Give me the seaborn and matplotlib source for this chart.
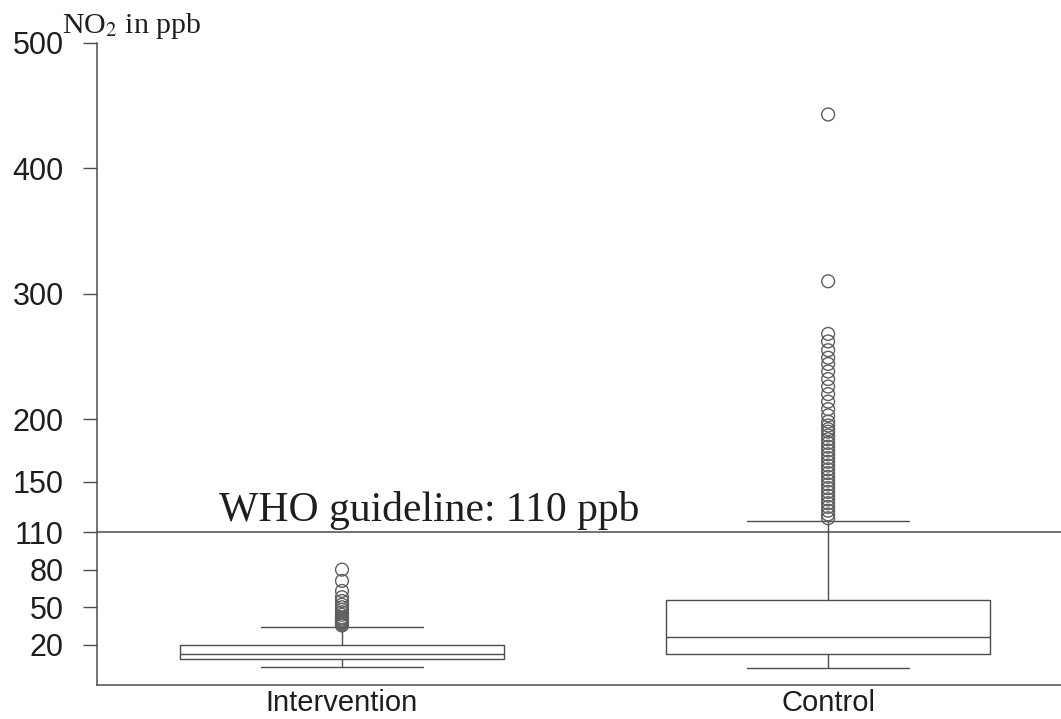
import numpy as np
import pandas as pd
import matplotlib
matplotlib.use("Agg")
import matplotlib.pyplot as plt
import seaborn as sns

# ==============================
# DATA
# ==============================
groups = ["Intervention", "Control"]
q1 = [8.5, 13.0]
median = [12.5, 26.5]
q3 = [19.5, 56.0]
whisker_low = [2.0, 1.5]
whisker_high = [34.0, 119.0]

intervention_fliers = [80, 71, 63, 58, 55, 52, 50, 48, 46, 44, 42, 41, 40,
                       39, 38, 37, 36, 35.5]
control_fliers = [443, 310, 268, 262, 255, 249, 244, 238, 232, 226, 220, 214,
                  208, 203, 198, 195, 192, 190, 187, 184, 181, 178, 175, 172,
                  169, 166, 163, 160, 157, 154, 151, 148, 145, 142, 139, 136,
                  133, 130, 127, 124, 121]

y_ticks = [20, 50, 80, 110, 150, 200, 300, 400, 500]
guideline = 110
guideline_label = "WHO guideline: 110 ppb"

# ==============================
# STYLE
# ==============================
sns.set_style("ticks")
plt.rcParams["font.family"] = ["Liberation Sans", "DejaVu Sans"]
plt.rcParams["mathtext.fontset"] = "stix"
line_col = "#4d4d4d"

fig = plt.figure(figsize=(10.61, 7.19), dpi=100)
ax = fig.add_axes([0.0914, 0.0473, 0.9086, 0.8929])

# ==============================
# BOXES
# ==============================
stats = []
for i, g in enumerate(groups):
    stats.append(dict(label=g, q1=q1[i], med=median[i], q3=q3[i],
                      whislo=whisker_low[i], whishi=whisker_high[i], fliers=[]))

line_kw = dict(color=line_col, linewidth=1.0)
ax.bxp(stats, positions=range(len(groups)), widths=0.667, capwidths=0.333,
       showfliers=False, boxprops=line_kw, medianprops=line_kw,
       whiskerprops=line_kw, capprops=line_kw)

# outliers
flier_df = pd.DataFrame({
    "pos": [0] * len(intervention_fliers) + [1] * len(control_fliers),
    "value": intervention_fliers + control_fliers,
})
sns.scatterplot(data=flier_df, x="pos", y="value", ax=ax, marker="o", s=85,
                facecolor="none", edgecolor="#5e5e5e", linewidth=1.0,
                legend=False, zorder=3)

# guideline
ax.axhline(guideline, color=line_col, linewidth=1.1, zorder=1)
ax.text(-0.252, guideline + 9, guideline_label, fontsize=30,
        family="Liberation Serif", color="#1e1e1e", va="baseline", ha="left")

# ==============================
# AXES
# ==============================
ax.set_xlim(-0.504, 1.479)
ax.set_ylim(-12, 500)
ax.set_yticks(y_ticks)
ax.set_yticklabels([str(t) for t in y_ticks], fontsize=22, color="#1e1e1e")
ax.set_xticks(range(len(groups)))
ax.set_xticklabels(groups, fontsize=21, color="#1e1e1e")
ax.tick_params(axis="y", length=10, width=1, color=line_col, pad=14)
ax.tick_params(axis="x", length=0, pad=3)
ax.set_xlabel("")
ax.set_ylabel("")

for side in ["top", "right"]:
    ax.spines[side].set_visible(False)
for side in ["left", "bottom"]:
    ax.spines[side].set_color(line_col)
    ax.spines[side].set_linewidth(1.1)

fig.text(62 / 1061, 1 - 33 / 719, r"NO$_2$ in ppb", fontsize=21.5,
         family="Liberation Serif", color="#1e1e1e", va="baseline", ha="left")

fig.savefig("out.png", dpi=100, facecolor="white")
